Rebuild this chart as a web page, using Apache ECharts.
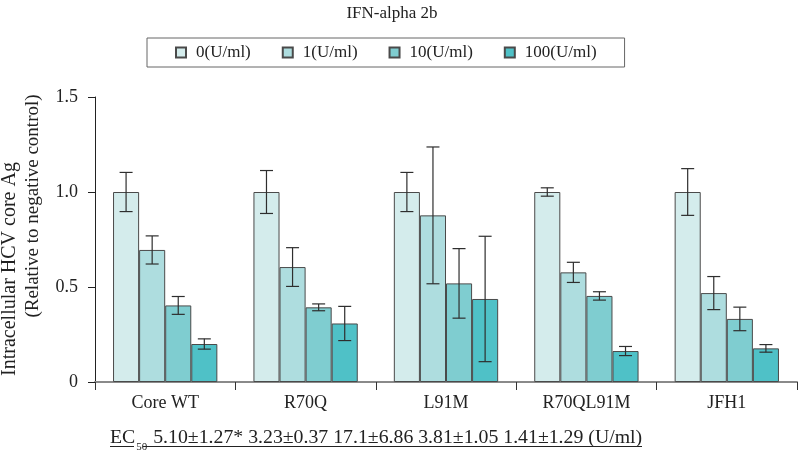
<!DOCTYPE html>
<html>
<head>
<meta charset="utf-8">
<script src="https://cdn.jsdelivr.net/npm/echarts@6/dist/echarts.min.js"></script>
<style>
html,body{margin:0;padding:0;background:#fff;}
#chart{width:799px;height:460px;}
</style>
</head>
<body>
<div id="chart"></div>
<script>
// ---- data ----
const categories = ['Core WT', 'R70Q', 'L91M', 'R70QL91M', 'JFH1'];
const seriesNames = ['0(U/ml)', '1(U/ml)', '10(U/ml)', '100(U/ml)'];
const dose0 = [1.0, 1.0, 1.0, 1.0, 1.0];
const dose1 = [0.695, 0.605, 0.877, 0.577, 0.468];
const dose10 = [0.403, 0.393, 0.519, 0.453, 0.332];
const dose100 = [0.200, 0.308, 0.437, 0.163, 0.177];
const err0 = [0.103, 0.113, 0.103, 0.022, 0.123];
const err1 = [0.074, 0.102, 0.360, 0.053, 0.087];
const err10 = [0.047, 0.018, 0.183, 0.022, 0.062];
const err100 = [0.027, 0.090, 0.330, 0.024, 0.020];
const yTicks = ['0', '0.5', '1.0', '1.5'];
const ec50Values = '5.10±1.27* 3.23±0.37 17.1±6.86 3.81±1.05 1.41±1.29 (U/ml)';

const means = [dose0, dose1, dose10, dose100];
const errs = [err0, err1, err10, err100];
const colors = ['#d4ecec', '#aedddf', '#7fcdd0', '#4fc1c7'];
const FONT = '"Liberation Serif", "Times New Roman", serif';
const GAP = 0.257;

const chart = echarts.init(document.getElementById('chart'), null, {renderer: 'canvas'});

const series = [];
seriesNames.forEach((name, s) => {
  series.push({
    name: name,
    type: 'bar',
    data: means[s],
    barGap: '0%',
    barCategoryGap: (GAP * 100) + '%',
    itemStyle: {color: colors[s], borderColor: '#4a4a4a', borderWidth: 1},
    z: 2
  });
});
seriesNames.forEach((name, s) => {
  series.push({
    type: 'custom',
    name: name + ' err',
    z: 5,
    silent: true,
    data: means[s].map((v, i) => [i, v, errs[s][i]]),
    encode: {x: 0, y: 1},
    renderItem: function (params, api) {
      const i = api.value(0), v = api.value(1), e = api.value(2);
      const catW = api.size([1, 0])[0];
      const barW = catW * (1 - GAP) / 4;
      const top = api.coord([i, v + e]);
      const bot = api.coord([i, v - e]);
      const x = top[0] + (s - 1.5) * barW;
      const hw = 6.5;
      const st = {stroke: '#2e2e2e', lineWidth: 1.2};
      return {
        type: 'group',
        children: [
          {type: 'line', shape: {x1: x, y1: top[1], x2: x, y2: bot[1]}, style: st},
          {type: 'line', shape: {x1: x - hw, y1: top[1], x2: x + hw, y2: top[1]}, style: st},
          {type: 'line', shape: {x1: x - hw, y1: bot[1], x2: x + hw, y2: bot[1]}, style: st}
        ]
      };
    }
  });
});

const option = {
  backgroundColor: '#fff',
  animation: false,
  title: {
    text: 'IFN-alpha 2b',
    left: 387, top: 0, textAlign: 'center',
    textStyle: {fontFamily: FONT, fontSize: 17, fontWeight: 'normal', color: '#222'}
  },
  legend: {
    data: seriesNames,
    left: 147, top: 38,
    padding: [6, 28, 6, 28],
    itemGap: 31,
    itemWidth: 10, itemHeight: 10,
    borderColor: '#666', borderWidth: 1,
    formatter: function (n) { return '{t|' + n + '}'; },
    textStyle: {
      fontFamily: FONT, fontSize: 17, color: '#222',
      rich: {t: {fontFamily: FONT, fontSize: 17, color: '#222', padding: [0, 0, 0, 5]}}
    },
    icon: 'rect'
  },
  grid: {left: 95, top: 97, width: 702, height: 285, containLabel: false},
  xAxis: {
    type: 'category',
    data: categories,
    axisLine: {lineStyle: {color: '#8a8a8a', width: 2}},
    axisTick: {show: true, length: 8, lineStyle: {color: '#333'}},
    axisLabel: {fontFamily: FONT, fontSize: 18, color: '#222', margin: 12}
  },
  yAxis: {
    type: 'value',
    min: 0, max: 1.5, interval: 0.5,
    splitLine: {show: false},
    axisLine: {show: true, lineStyle: {color: '#222', width: 1}},
    axisTick: {show: true, length: 7, lineStyle: {color: '#222'}},
    axisLabel: {
      fontFamily: FONT, fontSize: 18, color: '#222', margin: 17,
      formatter: function (v) { return yTicks[Math.round(v / 0.5)]; }
    }
  },
  graphic: [
    {type: 'text', x: 10, y: 269, rotation: Math.PI / 2,
      style: {text: 'Intracellular HCV core Ag', font: '20px ' + FONT, fill: '#222', align: 'center', verticalAlign: 'middle'}},
    {type: 'text', x: 33, y: 206, rotation: Math.PI / 2,
      style: {text: '(Relative to negative control)', font: '19px ' + FONT, fill: '#222', align: 'center', verticalAlign: 'middle'}},
    {type: 'text', x: 110, y: 448,
      style: {
        text: '{a|EC}{b|50}{a| ' + ec50Values + '}',
        verticalAlign: 'bottom',
        rich: {
          a: {fontFamily: FONT, fontSize: 19.8, fill: '#222', lineHeight: 22, verticalAlign: 'bottom'},
          b: {fontFamily: FONT, fontSize: 11, fill: '#222', lineHeight: 22, verticalAlign: 'bottom', padding: [0, 1, -5, 1]}
        }
      }},
    {type: 'line', shape: {x1: 110, y1: 446.5, x2: 134, y2: 446.5}, style: {stroke: '#222', lineWidth: 1}},
    {type: 'line', shape: {x1: 143, y1: 446.5, x2: 642, y2: 446.5}, style: {stroke: '#222', lineWidth: 1}}
  ],
  series: series
};
chart.setOption(option);
</script>
</body>
</html>
